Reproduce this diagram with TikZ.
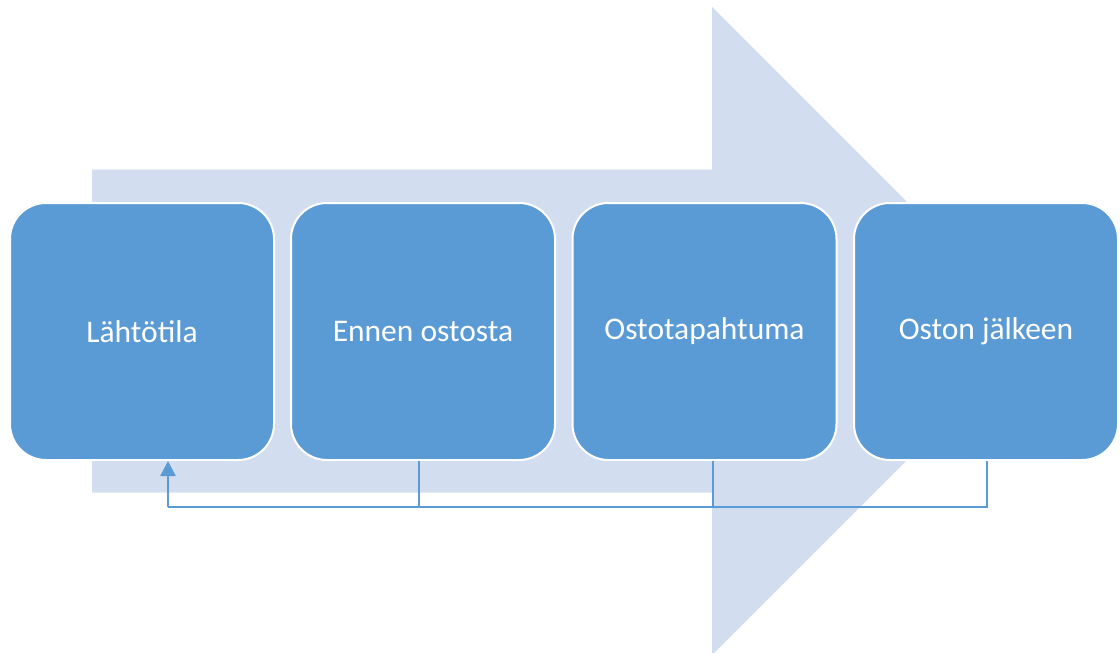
\documentclass[tikz,border=0pt]{standalone}
\usepackage{fontspec}
\setmainfont{Carlito}
\usetikzlibrary{arrows.meta}
\definecolor{boxblue}{HTML}{5B9BD5}
\definecolor{bgarrow}{HTML}{D2DEEF}
\definecolor{linkblue}{HTML}{5B9BD5}
\begin{document}
\begin{tikzpicture}[x=1pt,y=-1pt,
  stage/.style={draw=white,line width=2pt,fill=boxblue,rounded corners=36pt,
    minimum width=264pt,minimum height=257pt,inner sep=0pt,
    text=white,font=\fontsize{31.5pt}{36pt}\selectfont},
  link/.style={draw=linkblue,line width=2.5pt},
  linkarrow/.style={link,-{Triangle[length=15pt,width=15pt]}}]
\useasboundingbox (0,0) rectangle (1120,653);
% background arrow
\fill[bgarrow] (92,169.5) -- (712,169.5) -- (712,7) -- (1036,331) -- (712,655)
  -- (712,492.5) -- (92,492.5) -- cycle;
% stages
\node[stage] (s1) at (142,331.5) {Lähtötila};
\node[stage] (s2) at (423,331.5) {Ennen ostosta};
\node[stage] (s3) at (704.5,331.5) {Ostotapahtuma};
\node[stage] (s4) at (986,331.5) {Oston jälkeen};
% feedback connectors
\coordinate (c2) at (419,507);
\coordinate (c3) at (713,507);
\coordinate (c4) at (987,507);
\coordinate (c1) at (168,507);
\draw[link] (s2.south -| c2) -- (c2);
\draw[link] (s3.south -| c3) -- (c3);
\draw[link] (s4.south -| c4) -- (c4) -- (c1);
\draw[linkarrow] (c1) -- (c1 |- s1.south);
\end{tikzpicture}
\end{document}
